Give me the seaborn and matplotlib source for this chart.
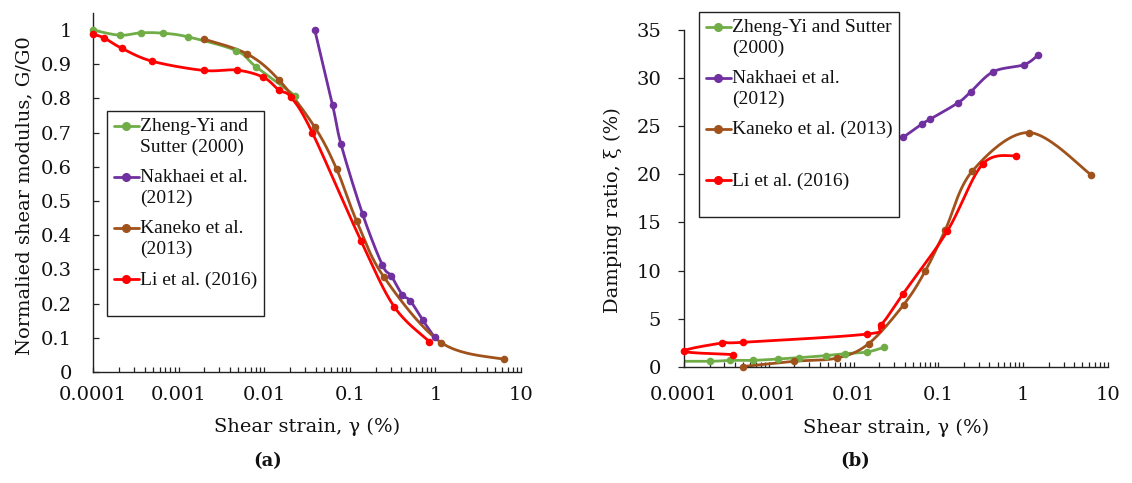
import numpy as np
import pandas as pd
import matplotlib
matplotlib.use("Agg")
import matplotlib.pyplot as plt
import seaborn as sns
from matplotlib.lines import Line2D
from matplotlib.ticker import LogLocator, FixedLocator, FixedFormatter, NullFormatter
from matplotlib.font_manager import FontProperties

# ---------------- data ----------------
series_names = ["Zheng-Yi", "Nakhaei", "Kaneko", "Li"]
series_colors = ["#70AD47", "#7030A0", "#A0521C", "#FF0000"]
legend_a = ["Zheng-Yi and\nSutter (2000)", "Nakhaei et al.\n(2012)", "Kaneko et al.\n(2013)", "Li et al. (2016)\n "]
legend_b = ["Zheng-Yi and Sutter\n(2000)", "Nakhaei et al.\n(2012)", "Kaneko et al. (2013)\n ", "Li et al. (2016)\n "]

# panel (a): G/G0
a_zheng_x = [0.0001, 0.000205, 0.00036, 0.00065, 0.0013, 0.0047, 0.0080, 0.023]
a_zheng_y = [1.0, 0.985, 0.992, 0.991, 0.98, 0.94, 0.893, 0.808]
a_nakh_x = [0.039, 0.063, 0.079, 0.141, 0.24, 0.305, 0.41, 0.51, 0.71, 0.98]
a_nakh_y = [1.0, 0.78, 0.666, 0.462, 0.313, 0.281, 0.226, 0.208, 0.152, 0.101]
a_kan_x = [0.00196, 0.00635, 0.015, 0.039, 0.070, 0.12, 0.25, 1.17, 6.3]
a_kan_y = [0.974, 0.930, 0.853, 0.716, 0.594, 0.442, 0.278, 0.086, 0.037]
a_li_x = [0.0001, 0.000135, 0.000216, 0.00049, 0.00196, 0.0048, 0.0098, 0.0148,
          0.0207, 0.0365, 0.135, 0.33, 0.85]
a_li_y = [0.988, 0.977, 0.947, 0.909, 0.882, 0.883, 0.862, 0.825,
          0.803, 0.70, 0.384, 0.191, 0.089]

# panel (b): damping ratio
b_zheng_x = [0.00006, 0.0002, 0.00035, 0.00065, 0.0013, 0.0023, 0.0047, 0.008, 0.0145, 0.023]
b_zheng_y = [0.59, 0.59, 0.69, 0.69, 0.83, 0.97, 1.18, 1.39, 1.56, 2.05]
b_nakh_x = [0.0385, 0.0635, 0.0796, 0.172, 0.242, 0.445, 1.03, 1.50]
b_nakh_y = [23.83, 25.2, 25.7, 27.43, 28.57, 30.64, 31.37, 32.37]
b_kan_x = [0.00049, 0.00196, 0.00635, 0.015, 0.039, 0.070, 0.12, 0.25, 1.17, 6.3]
b_kan_y = [0.05, 0.59, 0.93, 2.41, 6.47, 9.96, 14.18, 20.3, 24.32, 19.95]
b_li_x = [0.00038, 0.0001, 0.00028, 0.00049, 0.0145, 0.021, 0.0385, 0.127, 0.333, 0.82]
b_li_y = [1.29, 1.63, 2.49, 2.56, 3.42, 4.33, 7.61, 14.08, 21.06, 21.93]

x_ticks = [0.0001, 0.001, 0.01, 0.1, 1, 10]
x_ticklabels = ["0.0001", "0.001", "0.01", "0.1", "1", "10"]
a_yticks = [0, 0.1, 0.2, 0.3, 0.4, 0.5, 0.6, 0.7, 0.8, 0.9, 1.0]
a_yticklabels = ["0", "0.1", "0.2", "0.3", "0.4", "0.5", "0.6", "0.7", "0.8", "0.9", "1"]
b_yticks = [0, 5, 10, 15, 20, 25, 30, 35]
b_yticklabels = ["0", "5", "10", "15", "20", "25", "30", "35"]

# ---------------- style ----------------
sns.set_theme(style="white")
plt.rcParams["font.family"] = ["DejaVu Serif", "DejaVu Sans"]
INK = "#222222"
TICK_FONT = FontProperties(family="DejaVu Serif", size=14)
LAB_FONT = FontProperties(family="DejaVu Serif", size=14)
LEG_FONT = FontProperties(family="Liberation Serif", size=14)


def smooth(x, y, n=24):
    """Excel-like smoothed line (uniform Catmull-Rom in log-x / y display space)."""
    lx = np.log10(np.asarray(x, float))
    yy = np.asarray(y, float)
    P = np.column_stack([lx, yy])
    P = np.vstack([P[0], P, P[-1]])
    out = []
    t = np.linspace(0, 1, n, endpoint=False)[:, None]
    for i in range(1, len(P) - 2):
        p0, p1, p2, p3 = P[i - 1], P[i], P[i + 1], P[i + 2]
        seg = 0.5 * ((2 * p1) + (-p0 + p2) * t + (2 * p0 - 5 * p1 + 4 * p2 - p3) * t ** 2
                     + (-p0 + 3 * p1 - 3 * p2 + p3) * t ** 3)
        out.append(seg)
    out.append(P[-2][None, :])
    S = np.vstack(out)
    return 10 ** S[:, 0], S[:, 1]


def draw_series(ax, x, y, color, xmin):
    sx, sy = smooth(x, y)
    sns.lineplot(x=sx, y=sy, ax=ax, color=color, linewidth=2.0, sort=False,
                 estimator=None, zorder=2)
    df = pd.DataFrame({"x": x, "y": y})
    df = df[df["x"] >= xmin * 0.999]
    sns.scatterplot(data=df, x="x", y="y", ax=ax, color=color, s=30, linewidth=0,
                    zorder=3, clip_on=False)


def style_axes(ax, yticks, yticklabels, ylim, ytick_dir, ypad, xpad):
    ax.set_xscale("log")
    ax.set_xlim(1e-4, 10)
    ax.set_ylim(*ylim)
    for s in ["top", "right"]:
        ax.spines[s].set_visible(False)
    for s in ["left", "bottom"]:
        ax.spines[s].set_color(INK)
        ax.spines[s].set_linewidth(1.0)
    ax.xaxis.set_major_locator(FixedLocator(x_ticks))
    ax.xaxis.set_major_formatter(FixedFormatter(x_ticklabels))
    ax.xaxis.set_minor_locator(LogLocator(base=10, subs=np.arange(2, 10), numticks=20))
    ax.xaxis.set_minor_formatter(NullFormatter())
    ax.yaxis.set_major_locator(FixedLocator(yticks))
    ax.yaxis.set_major_formatter(FixedFormatter(yticklabels))
    ax.tick_params(axis="x", which="both", direction="in", length=3.6, width=0.9,
                   color=INK, pad=xpad, bottom=True)
    ax.tick_params(axis="y", which="major", direction=ytick_dir, length=4.5, width=0.9,
                   color=INK, pad=ypad, left=True)
    for lab in ax.get_xticklabels() + ax.get_yticklabels():
        lab.set_fontproperties(TICK_FONT)
        lab.set_color("#111111")
    ax.grid(False)


def add_legend(ax, labels, anchor):
    handles = [Line2D([], [], color=c, lw=2.0, marker="o", ms=5.5) for c in series_colors]
    leg = ax.legend(handles, labels, loc="upper left", bbox_to_anchor=anchor,
                    borderaxespad=0, frameon=True, fancybox=False, framealpha=1,
                    edgecolor=INK, prop=LEG_FONT, handlelength=1.3, handletextpad=0.05,
                    borderpad=0.35, labelspacing=0.67, numpoints=1, handleheight=1.1)
    leg.get_frame().set_linewidth(1.0)
    for col in leg._legend_handle_box.get_children():
        for item in col.get_children():
            item.align = "top"
    for t in leg.get_texts():
        t.set_color("#111111")
        t.set_linespacing(1.29)
    return leg


fig = plt.figure(figsize=(11.32, 4.83), dpi=100)
axA = fig.add_axes([93 / 1132, 111 / 483, 428 / 1132, 359 / 483])
axB = fig.add_axes([684 / 1132, 116 / 483, 424 / 1132, 337.4 / 483])
for ax in (axA, axB):
    ax.set_xscale("log")

# panel (a)
for (x, y), c in zip([(a_zheng_x, a_zheng_y), (a_nakh_x, a_nakh_y),
                      (a_kan_x, a_kan_y), (a_li_x, a_li_y)], series_colors):
    draw_series(axA, x, y, c, 1e-4)
style_axes(axA, a_yticks, a_yticklabels, (0, 1.05), "in", 15, 10)
axA.set_xlabel("Shear strain, γ (%)", fontproperties=LAB_FONT, color="#111111")
axA.set_ylabel("Normalied shear modulus, G/G0", fontproperties=LAB_FONT, color="#111111")
axA.xaxis.set_label_coords(0.5, -0.128)
axA.yaxis.set_label_coords(-0.140, 0.49)
add_legend(axA, legend_a, (14 / 428, 261 / 359))

# panel (b)
for (x, y), c in zip([(b_zheng_x, b_zheng_y), (b_nakh_x, b_nakh_y),
                      (b_kan_x, b_kan_y), (b_li_x, b_li_y)], series_colors):
    draw_series(axB, x, y, c, 1e-4)
style_axes(axB, b_yticks, b_yticklabels, (0, 35), "out", 12, 13.6)
axB.set_xlabel("Shear strain, γ (%)", fontproperties=LAB_FONT, color="#111111")
axB.set_ylabel("Damping ratio, ξ (%)", fontproperties=LAB_FONT, color="#111111")
axB.xaxis.set_label_coords(0.5, -0.152)
axB.yaxis.set_label_coords(-0.146, 0.465)
add_legend(axB, legend_b, (15 / 424, 355 / 337.4))

fig.text(268 / 1132, 1 - 461 / 483, "(a)", ha="center", va="center",
         fontproperties=FontProperties(family="DejaVu Serif", size=13, weight="bold"),
         color="#111111")
fig.text(855 / 1132, 1 - 461 / 483, "(b)", ha="center", va="center",
         fontproperties=FontProperties(family="DejaVu Serif", size=13, weight="bold"),
         color="#111111")

fig.savefig("out.png", dpi=100, facecolor="white")
